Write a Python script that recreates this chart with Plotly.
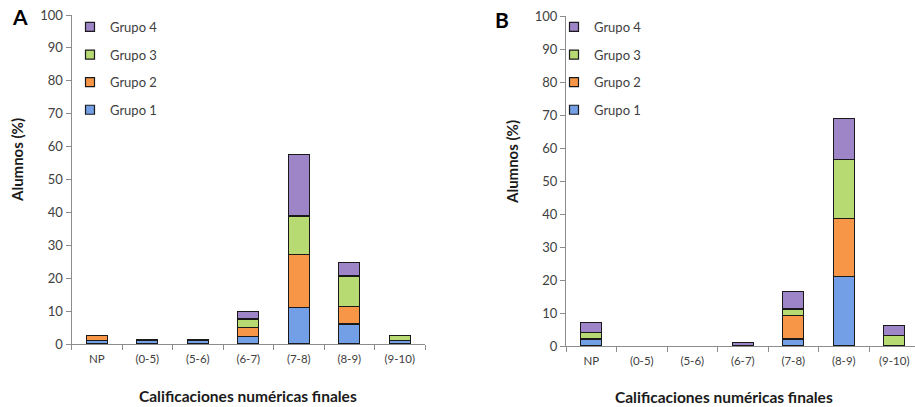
import plotly.graph_objects as go

categories = ["NP", "(0-5)", "(5-6)", "(6-7)", "(7-8)", "(8-9)", "(9-10)"]
groups = ["Grupo 1", "Grupo 2", "Grupo 3", "Grupo 4"]

# Panel A values (% of students)
a_g1 = [1.0, 1.2, 1.2, 2.4, 11.2, 6.1, 1.0]
a_g2 = [1.5, 0.0, 0.0, 2.6, 15.9, 5.4, 0.0]
a_g3 = [0.0, 0.0, 0.0, 2.6, 11.8, 9.2, 1.5]
a_g4 = [0.0, 0.0, 0.0, 2.2, 18.6, 4.1, 0.0]

# Panel B values (% of students)
b_g1 = [2.1, 0.0, 0.0, 0.0, 2.1, 21.0, 0.0]
b_g2 = [0.0, 0.0, 0.0, 0.0, 7.1, 17.7, 0.0]
b_g3 = [1.9, 0.0, 0.0, 0.0, 2.0, 17.9, 3.1]
b_g4 = [3.1, 0.0, 0.0, 1.0, 5.3, 12.4, 3.2]

y_ticks = list(range(0, 101, 10))

colors = ["#739fe6", "#f79646", "#b8da72", "#9e85c8"]
W, H = 915, 407
FONT = "Lato, Liberation Sans, sans-serif"
TXT = "#404040"
EDGE = "#1a1a1a"

fig = go.Figure()
panels = [
    ("x", "y", "legend", [a_g1, a_g2, a_g3, a_g4]),
    ("x2", "y2", "legend2", [b_g1, b_g2, b_g3, b_g4]),
]
for xa, ya, lg, series in panels:
    for name, vals, col in zip(groups, series, colors):
        # empty segments are not drawn (avoid zero-height outlines)
        shown = [v if v > 0 else None for v in vals]
        fig.add_trace(go.Bar(
            x=categories, y=shown, name=name, xaxis=xa, yaxis=ya,
            marker=dict(color=col, line=dict(color=EDGE, width=1.2)),
            showlegend=False,
        ))
    # legend entries (small square swatches), listed Grupo 4 -> Grupo 1
    for name, col in reversed(list(zip(groups, colors))):
        fig.add_trace(go.Scatter(
            x=[None], y=[None], mode="markers", name=name, xaxis=xa, yaxis=ya,
            legend=lg, legendgroup=lg + name, showlegend=True,
            marker=dict(symbol="square", size=9, color=col,
                        line=dict(color=EDGE, width=1.2)),
        ))

def px_x(p):
    return p / W

def px_y(p):
    return (H - p) / H

cat_w = 50.5
axis_common = dict(
    showline=True, linecolor="#8c8c8c", linewidth=1,
    ticks="outside", tickcolor="#8c8c8c", ticklen=5,
    showgrid=False, zeroline=False, automargin=False,
)
xfont = dict(family=FONT, size=11.5, color=TXT)
yfont = dict(family=FONT, size=13, color=TXT)

# Panel A geometry
ax0, ay0, ay1 = 71.5, 344, 15
ax1 = ax0 + 7 * cat_w
# Panel B geometry
bx0, by0, by1 = 566, 346, 16
bx1 = 915
b_range_end = -0.5 + (bx1 - bx0) / cat_w

legend_common = dict(
    xanchor="left", yanchor="top", traceorder="grouped",
    tracegroupgap=7.7, itemwidth=30, itemsizing="trace",
    font=dict(family=FONT, size=13, color=TXT), bgcolor="rgba(0,0,0,0)",
)

def ann(text, x, y, size, color="#1a1a1a", angle=0):
    return dict(text=text, x=px_x(x), y=px_y(y), xref="paper", yref="paper",
                xanchor="center", yanchor="middle", showarrow=False,
                textangle=angle, font=dict(family=FONT, size=size, color=color))

fig.update_layout(
    template="none",
    width=W, height=H,
    margin=dict(l=0, r=0, t=0, b=0, pad=0),
    paper_bgcolor="white", plot_bgcolor="white",
    barmode="stack", bargap=0.58,
    showlegend=True,
    xaxis=dict(domain=[px_x(ax0), px_x(ax1)], anchor="y", range=[-0.5, 6.5],
               tickson="boundaries", tickfont=xfont, ticklabelstandoff=4, **axis_common),
    yaxis=dict(domain=[px_y(ay0), px_y(ay1)], anchor="x", range=[0, 100],
               tickvals=y_ticks, tickfont=yfont, **axis_common),
    xaxis2=dict(domain=[px_x(bx0), 1.0], anchor="y2", range=[-0.5, b_range_end],
                tickson="boundaries", tickfont=xfont, ticklabelstandoff=4, **axis_common),
    yaxis2=dict(domain=[px_y(by0), px_y(by1)], anchor="x2", range=[0, 100],
                tickvals=y_ticks, tickfont=yfont, **axis_common),
    legend=dict(x=px_x(70), y=px_y(12), **legend_common),
    legend2=dict(x=px_x(554), y=px_y(12), **legend_common),
    annotations=[
        ann("<b>A</b>", 20, 17, 21, "black"),
        ann("<b>B</b>", 502, 19, 21, "black"),
        ann("<b>Alumnos (%)</b>", 17, 160, 15, angle=-90),
        ann("<b>Alumnos (%)</b>", 512, 162, 15, angle=-90),
        ann("<b>Calificaciones numéricas finales</b>", 248, 396, 15.5),
        ann("<b>Calificaciones numéricas finales</b>", 724, 397, 15.5),
    ],
)

fig.write_html(
    "out.html",
    config={"displayModeBar": False},
    post_script="document.body.style.margin='0';document.body.style.overflow='hidden';",
)
